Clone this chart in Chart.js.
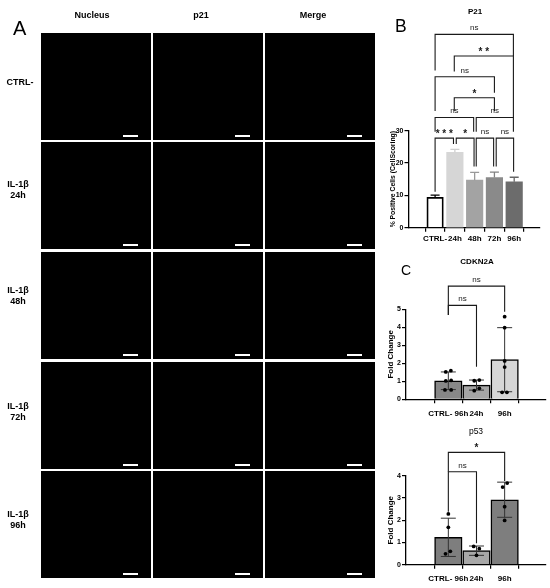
<!DOCTYPE html>
<html>
<head>
<meta charset="utf-8">
<script src="https://cdn.jsdelivr.net/npm/chart.js@4.4.0/dist/chart.umd.min.js"></script>
<style>
body { margin: 0; background: #fff; }
#fig { position: relative; width: 550px; height: 588px; overflow: hidden; font-family: "Liberation Sans", Arial, sans-serif; color: #000; }
.t { position: absolute; white-space: pre; z-index: 2; will-change: transform; }
.panel { position: absolute; background: #000; }
.scalebar { position: absolute; right: 13px; bottom: 3px; width: 15px; height: 2.5px; background: #fff; }
canvas { position: absolute; z-index: 1; }
</style>
</head>
<body>
<div id="fig">
  <canvas id="p21Chart" width="165" height="250" style="left:385px;top:0px;width:165px;height:250px"></canvas>
  <canvas id="cdkn2aChart" width="165" height="170" style="left:385px;top:250px;width:165px;height:170px"></canvas>
  <canvas id="p53Chart" width="165" height="168" style="left:385px;top:420px;width:165px;height:168px"></canvas>

  <div class="t" style="left:13px;top:18px;font-size:20px;line-height:20px">A</div>
  <div class="t" style="left:395px;top:18px;font-size:17.5px;line-height:17.5px">B</div>
  <div class="t" style="left:401px;top:263px;font-size:14px;line-height:14px">C</div>

  <div class="t" style="left:424.5px;top:7.3px;width:100px;text-align:center;font-size:8px;line-height:10px;font-weight:bold">P21</div>
  <div class="t" style="left:427px;top:257px;width:100px;text-align:center;font-size:8px;line-height:10px;font-weight:bold">CDKN2A</div>
  <div class="t" style="left:426px;top:426px;width:100px;text-align:center;font-size:8.5px;line-height:10px">p53</div>
</div>

<script>
// panel A (microscopy grid)
const colTitles = ['Nucleus', 'p21', 'Merge'];
const rowTitles = ['CTRL-', 'IL-1β\n24h', 'IL-1β\n48h', 'IL-1β\n72h', 'IL-1β\n96h'];

// P21 % positive cells
const p21Labels = ['CTRL-', '24h', '48h', '72h', '96h'];
const p21Mean = [9.4, 23.3, 14.7, 15.5, 14.2];
const p21Sd = [0.7, 0.9, 2.4, 1.7, 1.4];
// significance: a/b = groups, y = bracket level, la/lb = leg ends
const p21Sig = [
    { a: 0, b: 3.96, y: 59.8, la: 48.6, lb: 53.1, t: 'ns' },
    { a: 0.97, b: 3.96, y: 53.1, la: 48.3, lb: 34.1, t: '**' },
    { a: 0, b: 3, y: 46.7, la: 36.1, lb: 41.7, t: 'ns' },
    { a: 0.97, b: 3, y: 40.2, la: 36.1, lb: 36.1, t: '*' },
    { a: 0, b: 1.95, y: 34.1, la: 29.7, lb: 29.7, t: 'ns' },
    { a: 2.08, b: 3.96, y: 34.1, la: 29.7, lb: 29.7, t: 'ns' },
    { a: 0, b: 0.93, y: 27.7, la: 11.1, lb: 25.9, t: '***' },
    { a: 1.07, b: 1.97, y: 27.7, la: 25.9, lb: 18.9, t: '*' },
    { a: 2.08, b: 2.96, y: 27.7, la: 18.9, lb: 18.9, t: 'ns' },
    { a: 3.09, b: 3.97, y: 27.7, la: 18.9, lb: 17.3, t: 'ns' }
];

// qPCR fold change
const qpcrLabels = ['CTRL- 96h', '24h', '96h'];

const cdkn2aMean = [1.03, 0.79, 2.2];
const cdkn2aSd = [0.49, 0.28, 1.78];
const cdkn2aPoints = [
    [1.52, 1.59, 1.02, 1.05, 0.52, 0.52],
    [1.03, 1.07, 0.48, 0.61],
    [4.59, 3.98, 2.13, 1.79, 0.39, 0.39]
];
const cdkn2aSig = [
    { a: 0, b: 2, y: 6.29, la: 4.68, lb: 4.87, t: 'ns' },
    { a: 0, b: 1, y: 5.22, la: 4.68, lb: 1.81, t: 'ns' }
];

const p53Mean = [1.23, 0.63, 2.92];
const p53Sd = [0.86, 0.21, 0.79];
const p53Points = [
    [2.28, 1.68, 0.6, 0.49],
    [0.82, 0.72, 0.42],
    [3.49, 3.67, 2.61, 1.99]
];
const p53Sig = [
    { a: 0, b: 2, y: 5.05, la: 4.18, lb: 3.76, t: '*' },
    { a: 0, b: 1, y: 4.18, la: 2.38, lb: 0.96, t: 'ns' }
];

// horizontal spread of the dots inside each bar (layout only)
const cdkn2aJitter = [[-0.09, 0.09, -0.09, 0.1, -0.12, 0.1], [-0.08, 0.1, -0.08, 0.1], [0, 0, 0, 0, -0.09, 0.08]];
const p53Jitter = [[0, 0, 0.07, -0.1], [-0.1, 0.1, 0], [-0.07, 0.09, 0, 0]];


// build the image grid
const fig = document.getElementById('fig');
const colX = [41, 153, 265];
const rowY = [33, 142, 252, 362, 471];
const headX = [92, 201, 312.5];
const rowLabelY = [76.6, 178.6, 284.6, 401.3, 508.6];

colTitles.forEach((txt, c) => {
    const d = document.createElement('div');
    d.className = 't';
    d.style.cssText = 'left:' + (headX[c] - 50) + 'px;top:11.3px;width:100px;text-align:center;font-size:9px;line-height:9px;font-weight:bold';
    d.textContent = txt;
    fig.appendChild(d);
});

rowTitles.forEach((txt, r) => {
    for (let c = 0; c < 3; c++) {
        const p = document.createElement('div');
        p.className = 'panel';
        p.style.cssText = 'left:' + colX[c] + 'px;top:' + rowY[r] + 'px;width:110px;height:107px';
        const sb = document.createElement('div');
        sb.className = 'scalebar';
        p.appendChild(sb);
        fig.appendChild(p);
    }
    const d = document.createElement('div');
    d.className = 't';
    d.style.cssText = 'left:' + (r == 0 ? 0 : -2) + 'px;top:' + rowLabelY[r] + 'px;width:40px;text-align:center;font-size:9px;line-height:11px;font-weight:bold';
    d.textContent = txt;
    fig.appendChild(d);
});


// error bars, drawn right after the bars
const errPlugin = {
    id: 'err',
    afterDatasetDraw(chart, args, opts) {
        if (args.index !== 0) return;
        const ctx = chart.ctx, x = chart.scales.x, y = chart.scales.y;
        ctx.save();
        ctx.lineWidth = opts.width;
        opts.mean.forEach((m, i) => {
            const px = x.getPixelForValue(i);
            const top = y.getPixelForValue(m + opts.sd[i]);
            const bot = opts.upOnly ? y.getPixelForValue(m) : y.getPixelForValue(Math.max(0, m - opts.sd[i]));
            ctx.strokeStyle = opts.colors[i];
            ctx.beginPath();
            ctx.moveTo(px, bot);
            ctx.lineTo(px, top);
            ctx.moveTo(px - opts.cap / 2, top);
            ctx.lineTo(px + opts.cap / 2, top);
            if (!opts.upOnly) {
                ctx.moveTo(px - opts.cap / 2, bot);
                ctx.lineTo(px + opts.cap / 2, bot);
            }
            ctx.stroke();
        });
        ctx.restore();
    }
};

// significance brackets
const sigPlugin = {
    id: 'sig',
    afterDraw(chart, args, opts) {
        const ctx = chart.ctx, x = chart.scales.x, y = chart.scales.y;
        ctx.save();
        ctx.strokeStyle = '#1a1a1a';
        ctx.fillStyle = '#1a1a1a';
        ctx.lineWidth = 1.1;
        ctx.textAlign = 'center';
        ctx.textBaseline = 'alphabetic';
        for (const s of opts.items) {
            const xa = x.getPixelForValue(s.a);
            const xb = x.getPixelForValue(s.b);
            const yy = y.getPixelForValue(s.y);
            ctx.beginPath();
            ctx.moveTo(xa, y.getPixelForValue(s.la));
            ctx.lineTo(xa, yy);
            ctx.lineTo(xb, yy);
            ctx.lineTo(xb, y.getPixelForValue(s.lb));
            ctx.stroke();
            if (s.t === 'ns') {
                ctx.font = '8px "Liberation Sans"';
                ctx.fillText('ns', (xa + xb) / 2, yy - 4);
            } else {
                ctx.font = 'bold 10px "Liberation Sans"';
                ctx.fillText(s.t.split('').join(' '), (xa + xb) / 2, yy - 1.2);
            }
        }
        ctx.restore();
    }
};

const tickFont = { family: 'Liberation Sans', size: 7, weight: 'bold' };
const labelFont = { family: 'Liberation Sans', size: 8, weight: 'bold' };

function yScale(max, step, title, size, pad, width) {
    return {
        min: 0,
        max: max,
        ticks: { stepSize: step, color: '#000', font: tickFont, padding: 1 },
        grid: { drawOnChartArea: false, tickLength: 4, color: '#000', lineWidth: 1.2 },
        border: { color: '#000', width: 1.3 },
        title: { display: true, text: title, color: '#000', font: { family: 'Liberation Sans', size: size, weight: 'bold' }, padding: { top: pad, bottom: 0 } },
        afterFit: s => { s.width = width; }
    };
}

function xScale(labels, min, max, height, pad) {
    return {
        type: 'linear',
        min: min,
        max: max,
        ticks: {
            stepSize: 1, includeBounds: false, autoSkip: false, maxRotation: 0, padding: pad,
            color: '#000', font: labelFont,
            callback: v => labels[v] !== undefined ? labels[v] : ''
        },
        grid: { drawOnChartArea: false, tickLength: 4, color: '#000', lineWidth: 1.2 },
        border: { color: '#000', width: 1.3 },
        afterFit: s => { s.height = height; }
    };
}

function dots(points, jitter) {
    const out = [];
    points.forEach((grp, i) => grp.forEach((v, k) => out.push({ x: i + jitter[i][k], y: v })));
    return out;
}

Chart.defaults.animation = false;

// B
const p21Colors = ['#ffffff', '#d6d6d6', '#a3a3a3', '#8a8a8a', '#6c6c6c'];
new Chart(document.getElementById('p21Chart'), {
    type: 'bar',
    data: {
        datasets: [{
            data: p21Mean.map((v, i) => ({ x: i, y: v })),
            backgroundColor: p21Colors,
            borderColor: '#000',
            borderWidth: [1.8, 0, 0, 0, 0],
            barThickness: 16.5
        }]
    },
    options: {
        responsive: false,
        layout: { padding: { top: 130.7, right: 10, left: 0, bottom: 0 } },
        scales: {
            x: xScale(p21Labels, -0.68, 4.64, 22.3, 2.5),
            y: yScale(30, 10, '% Positive Cells (CellScoring)', 6.8, 4.4, 23.5)
        },
        plugins: {
            legend: { display: false },
            tooltip: { enabled: false },
            err: { mean: p21Mean, sd: p21Sd, upOnly: true, colors: ['#000', '#cfcfcf', '#999999', '#828282', '#666666'], width: 1.3, cap: 9 },
            sig: { items: p21Sig }
        }
    },
    plugins: [errPlugin, sigPlugin]
});

// C
function qpcrChart(id, mean, sd, points, jitter, sig, colors, ymax, top, xh, lpad) {
    new Chart(document.getElementById(id), {
        type: 'bar',
        data: {
            datasets: [{
                type: 'bar',
                order: 2,
                data: mean.map((v, i) => ({ x: i, y: v })),
                backgroundColor: colors,
                borderColor: '#000',
                borderWidth: 1.5,
                barThickness: 27.5
            }, {
                type: 'scatter',
                order: 1,
                data: dots(points, jitter),
                pointRadius: 1.9,
                pointBackgroundColor: '#000',
                pointBorderWidth: 0
            }]
        },
        options: {
            responsive: false,
            layout: { padding: { top: top, right: 4, left: 0, bottom: 0 } },
            scales: {
                x: xScale(qpcrLabels, -0.675, 2.64, xh, lpad),
                y: yScale(ymax, 1, 'Fold Change', 8, 0.7, 21)
            },
            plugins: {
                legend: { display: false },
                tooltip: { enabled: false },
                err: { mean: mean, sd: sd, upOnly: false, colors: ['#333', '#333', '#333'], width: 1, cap: 15 },
                sig: { items: sig }
            }
        },
        plugins: [errPlugin, sigPlugin]
    });
}

qpcrChart('cdkn2aChart', cdkn2aMean, cdkn2aSd, cdkn2aPoints, cdkn2aJitter, cdkn2aSig,
    ['#878787', '#a6a6a6', '#d6d6d6'], 5, 59.3, 20.7, 5.5);
qpcrChart('p53Chart', p53Mean, p53Sd, p53Points, p53Jitter, p53Sig,
    ['#7e7e7e', '#a8a8a8', '#7e7e7e'], 4, 55.7, 23.3, 5);
</script>
</body>
</html>
